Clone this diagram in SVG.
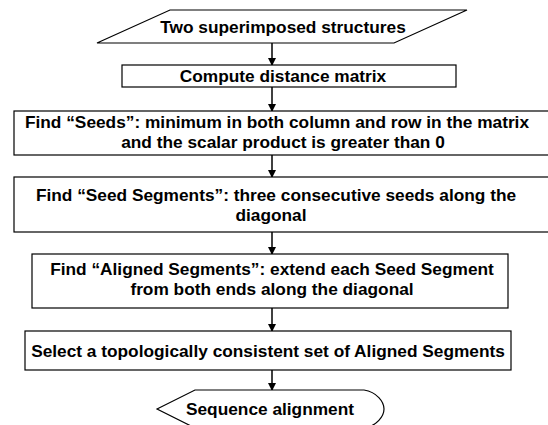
<svg xmlns="http://www.w3.org/2000/svg" width="548" height="425" viewBox="0 0 548 425">
<style>
.s{fill:#fff;stroke:#000;stroke-width:1.2}
.t{font-family:"Liberation Sans",Arial,sans-serif;font-weight:bold;font-size:17.3px;fill:#000;text-anchor:middle}
.c{stroke:#000;stroke-width:1.5;fill:none;marker-end:url(#ah)}
</style>
<defs>
<marker id="ah" markerWidth="8" markerHeight="8" refX="7" refY="4" orient="auto" markerUnits="userSpaceOnUse">
<path d="M0,0 L8,4 L0,8 z" fill="#000"/>
</marker>
</defs>
<rect width="548" height="425" fill="#fff"/>
<g id="connectors">
<line class="c" x1="272" y1="43" x2="272" y2="65"/>
<line class="c" x1="272" y1="87" x2="272" y2="111"/>
<line class="c" x1="272" y1="155" x2="272" y2="177"/>
<line class="c" x1="272" y1="232" x2="272" y2="254"/>
<line class="c" x1="272" y1="308" x2="272" y2="331"/>
<line class="c" x1="272" y1="370" x2="272" y2="390"/>
</g>
<g id="n1"><polygon class="s" points="97,43 170,10 467,10 394,43"/><text class="t" x="283" y="33">Two superimposed structures</text></g>
<g id="n2"><rect class="s" x="122" y="65" width="334" height="22"/><text class="t" x="283" y="82">Compute distance matrix</text></g>
<g id="n3"><rect class="s" x="14" y="111" width="540" height="44"/><text class="t" x="277" y="128">Find “Seeds”: minimum in both column and row in the matrix</text><text class="t" x="283" y="148">and the scalar product is greater than 0</text></g>
<g id="n4"><rect class="s" x="14" y="177" width="540" height="55"/><text class="t" x="276" y="201">Find “Seed Segments”: three consecutive seeds along the</text><text class="t" x="271" y="221">diagonal</text></g>
<g id="n5"><rect class="s" x="32" y="254" width="476" height="54"/><text class="t" x="272" y="275">Find “Aligned Segments”: extend each Seed Segment</text><text class="t" x="272" y="295">from both ends along the diagonal</text></g>
<g id="n6"><rect class="s" x="25" y="331" width="486" height="39"/><text class="t" x="268" y="357">Select a topologically consistent set of Aligned Segments</text></g>
<g id="n7"><path class="s" d="M157,409 L195,390 L364,390 C377,392 384,402 384,409 C384,416 377,426 364,428 L195,428 Z"/><text class="t" x="270" y="415">Sequence alignment</text></g>
</svg>
